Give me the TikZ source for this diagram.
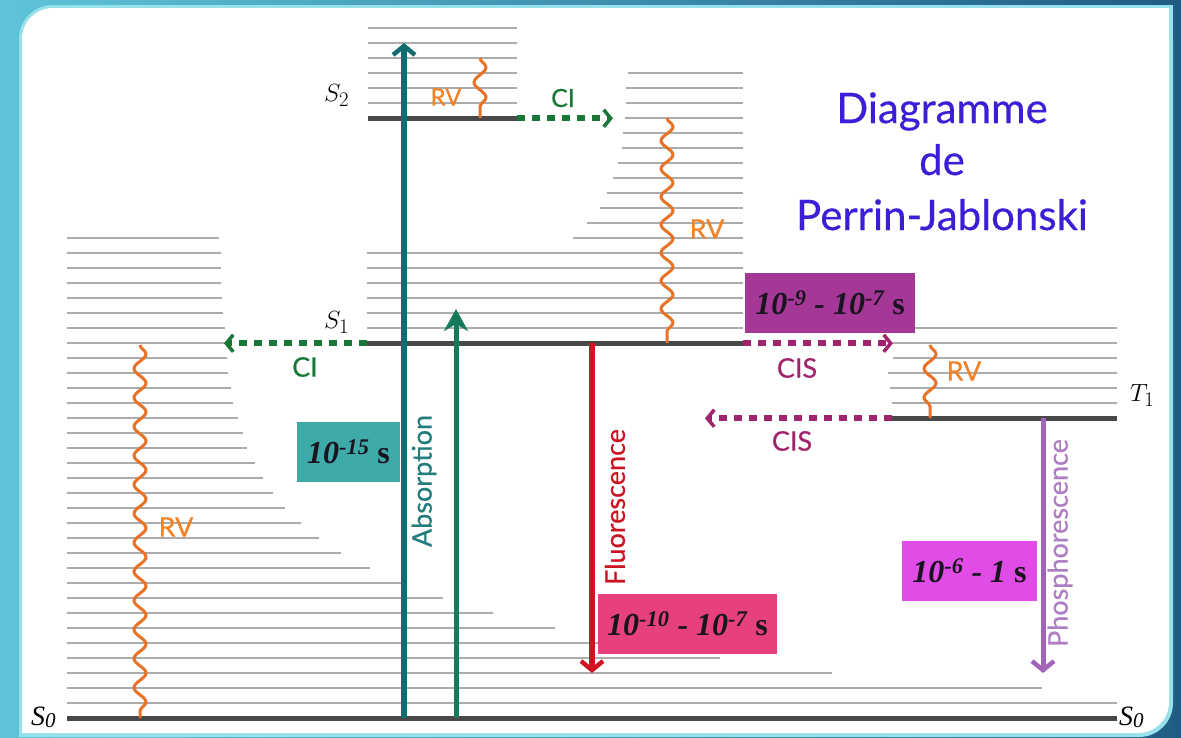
\documentclass[tikz,border=0pt]{standalone}
\usepackage{fontspec}
\usetikzlibrary{arrows.meta,decorations.pathmorphing}
\newfontfamily\gill[FakeBold=0.45]{Lato}
\newfontfamily\tnr{Liberation Serif}
\definecolor{bgL}{RGB}{95,196,216}
\definecolor{bgM}{RGB}{78,172,204}
\definecolor{bgR}{RGB}{32,92,132}
\definecolor{rim}{RGB}{150,225,235}
\definecolor{levgray}{RGB}{172,172,172}
\definecolor{thickgray}{RGB}{72,72,72}
\definecolor{absA}{RGB}{18,110,110}
\definecolor{absB}{RGB}{20,122,92}
\definecolor{fluo}{RGB}{205,20,35}
\definecolor{phos}{RGB}{160,100,185}
\definecolor{phostxt}{RGB}{175,125,195}
\definecolor{abstxt}{RGB}{35,125,125}
\definecolor{ciG}{RGB}{25,120,55}
\definecolor{cisM}{RGB}{160,35,110}
\definecolor{rvO}{RGB}{232,115,40}
\definecolor{rvT}{RGB}{240,130,40}
\definecolor{titleB}{RGB}{60,30,215}
\definecolor{boxT}{RGB}{62,170,170}
\definecolor{boxP}{RGB}{165,55,150}
\definecolor{boxK}{RGB}{230,65,125}
\definecolor{boxM}{RGB}{225,75,230}
\definecolor{tmtxt}{RGB}{25,20,30}
\begin{document}
\begin{tikzpicture}[x=1pt,y=-1pt,
  lev/.style={levgray, line width=2.2pt},
  thk/.style={thickgray, line width=5pt},
  dotarr/.style={line width=6pt, dash pattern=on 8pt off 7pt,
     -{Straight Barb[length=7pt,width=17pt,line width=3.5pt]}},
  rv/.style={rvO, line width=3pt, decorate,
     decoration={snake, segment length=29pt, amplitude=6pt}},
  lbl/.style={font=\gill\fontsize{27}{30}\selectfont, inner sep=0pt},
  solidarr/.style={line width=5.5pt,
     -{Straight Barb[length=9pt,width=22pt,line width=4.5pt]}},
  tbox/.style={inner sep=0pt, minimum height=60pt, text=tmtxt,
     font=\tnr\bfseries\itshape\fontsize{32}{34}\selectfont},
  slbl/.style={inner sep=0pt, anchor=base west}
]
\useasboundingbox (0,0) rectangle (1181,737);
% background frame
\shade[left color=bgL, middle color=bgM, right color=bgR] (0,0) rectangle (1181,737);
\fill[rim, rounded corners=34pt] (19,5) rectangle (1173,737);
\fill[rim] (1130,5) rectangle (1173,45);
\fill[rim] (19,695) rectangle (60,737);
\fill[white, rounded corners=31pt] (22,8) rectangle (1169,733);
\fill[white] (1130,8) rectangle (1169,45);
\fill[white] (22,695) rectangle (60,733);

% S0 vibrational levels
\foreach \i/\xe in {0/219,1/221,2/221,3/221,4/222,5/223,6/225,7/225,8/227,9/228,10/231,11/233,12/238,13/243,14/247,15/255,16/263,17/273,18/285,19/301,20/319,21/341,22/370,23/402,24/443,25/493,26/555,27/630,28/720,29/832,30/1042,31/1117}
  \draw[lev] (67,{238.3+15*\i}) -- (\xe,{238.3+15*\i});
% S1 vibrational levels
\foreach \i/\xs in {-11/628,-10/626,-9/626,-8/625,-7/623,-6/622,-5/618,-4/613,-3/607,-2/600,-1/587,0/573,1/367,2/367,3/367,4/367,5/367,6/367}
  \draw[lev] (\xs,{238.3+15*\i}) -- (743,{238.3+15*\i});
% S2 vibrational levels
\foreach \i in {-14,...,-9}
  \draw[lev] (368,{238.3+15*\i}) -- (517,{238.3+15*\i});
% T1 vibrational levels
\foreach \i/\xs in {6/892,7/893,8/893,9/888,10/890,11/892}
  \draw[lev] (\xs,{238.3+15*\i}) -- (1117,{238.3+15*\i});

% principal levels
\draw[thk] (67,718.3) -- (1117,718.3);
\draw[thk] (367,343.3) -- (743,343.3);
\draw[thk] (368,118.3) -- (517,118.3);
\draw[thk] (892,418.3) -- (1117,418.3);

% named end points
\coordinate (s2r) at (517,118.3);
\coordinate (ci1t) at (613,118.3);
\coordinate (s1l) at (367,343.3);
\coordinate (ci2t) at (224,343.3);
\coordinate (s1r) at (743,343.3);
\coordinate (cis1t) at (893,343.3);
\coordinate (t1l) at (892,418.3);
\coordinate (cis2t) at (705,418.3);
\coordinate (absA0) at (404,718);
\coordinate (absA1) at (404,43);
\coordinate (absB0) at (456,718);
\coordinate (absB1) at (456,309);
\coordinate (flu0) at (592,343.3);
\coordinate (flu1) at (592,673);
\coordinate (pho0) at (1043,418.3);
\coordinate (pho1) at (1043,673);
\coordinate (rv0a) at (140,345);
\coordinate (rv0b) at (140,718);
\coordinate (rv2a) at (480,58);
\coordinate (rv2b) at (480,118);
\coordinate (rv1a) at (667,118);
\coordinate (rv1b) at (667,343);
\coordinate (rvta) at (930,345);
\coordinate (rvtb) at (930,418);

% dotted conversions
\draw[dotarr, ciG] (s2r) -- (ci1t);
\draw[dotarr, ciG] (s1l) -- (ci2t);
\draw[dotarr, cisM] (s1r) -- (cis1t);
\draw[dotarr, cisM] (t1l) -- (cis2t);

% vibrational relaxation
\draw[rv] (rv0a) -- (rv0b);
\draw[rv, decoration={snake, segment length=30pt, amplitude=6pt}] (rv2a) -- (rv2b);
\draw[rv, decoration={snake, segment length=28pt, amplitude=6pt}] (rv1a) -- (rv1b);
\draw[rv, decoration={snake, segment length=29pt, amplitude=6pt}] (rvta) -- (rvtb);

% radiative arrows
\draw[solidarr, absA] (absA0) -- (absA1);
\draw[absB, line width=5pt, -{Stealth[length=22pt,width=24pt,inset=7pt]}] (absB0) -- (absB1);
\draw[solidarr, fluo] (flu0) -- (flu1);
\draw[solidarr, phos, line width=5pt] (pho0) -- (pho1);

% time boxes
\node[tbox, fill=boxT, minimum width=103pt] (tb1) at (348.5,452) {10\textsuperscript{-15} {\upshape s}};
\node[tbox, fill=boxP, minimum width=170pt] (tb2) at (830,303) {10\textsuperscript{-9} - 10\textsuperscript{-7} {\upshape s}};
\node[tbox, fill=boxK, minimum width=179pt] (tb3) at (687.5,624) {10\textsuperscript{-10} - 10\textsuperscript{-7} {\upshape s}};
\node[tbox, fill=boxM, minimum width=135pt] (tb4) at (969.5,571) {10\textsuperscript{-6} - 1 {\upshape s}};

% process labels
\node[lbl, rotate=90, text=abstxt] (abslbl) at (424,481) {Absorption};
\node[lbl, rotate=90, text=fluo] (flulbl) at (615,507) {Fluorescence};
\node[lbl, rotate=90, text=phostxt] (pholbl) at (1060,543) {Phosphorescence};
\node[lbl, text=ciG, font=\gill\fontsize{25}{28}\selectfont] (ci1lbl) at (563,98) {CI};
\node[lbl, text=ciG] (ci2lbl) at (305,367) {CI};
\node[lbl, text=cisM] (cis1lbl) at (797,368) {CIS};
\node[lbl, text=cisM] (cis2lbl) at (792,441) {CIS};
\node[lbl, text=rvT, font=\gill\fontsize{24}{26}\selectfont] (rv2lbl) at (446,97) {RV};
\node[lbl, text=rvT] (rv1lbl) at (707,229) {RV};
\node[lbl, text=rvT] (rvtlbl) at (964,371) {RV};
\node[lbl, text=rvT] (rv0lbl) at (176,527) {RV};

% state labels
\node[slbl, font=\fontsize{31}{34}\selectfont] (S2) at (324,101.7) {$S_2$};
\node[slbl, font=\fontsize{31}{34}\selectfont] (S1) at (324,328.3) {$S_1$};
\node[slbl, font=\fontsize{31}{34}\selectfont] (T1) at (1130,401.7) {$T_1$};
\node[slbl, font=\tnr\itshape\fontsize{28}{30}\selectfont] (S0l) at (31,725) {S\raisebox{-2pt}{\fontsize{21}{22}\selectfont 0}};
\node[slbl, font=\tnr\itshape\fontsize{28}{30}\selectfont] (S0r) at (1119,725) {S\raisebox{-2pt}{\fontsize{21}{22}\selectfont 0}};

% title
\node[inner sep=0pt, anchor=base, text=titleB, font=\gill\fontsize{42}{46}\selectfont] (t1) at (942,123) {Diagramme};
\node[inner sep=0pt, anchor=base, text=titleB, font=\gill\fontsize{42}{46}\selectfont] (t2) at (942,175) {de};
\node[inner sep=0pt, anchor=base, text=titleB, font=\gill\fontsize{42}{46}\selectfont] (t3) at (942,230) {Perrin-Jablonski};
\end{tikzpicture}
\end{document}
